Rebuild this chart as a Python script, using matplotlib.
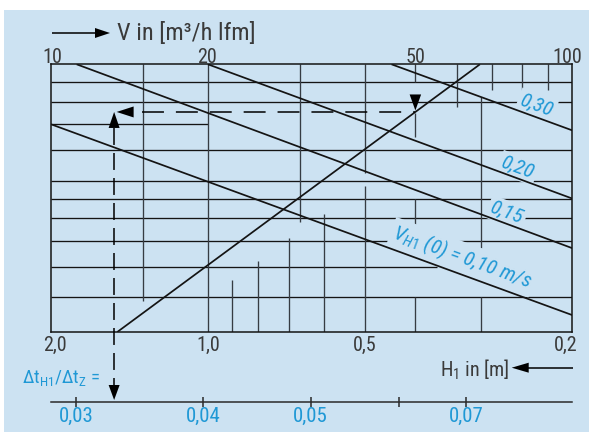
import numpy as np
import matplotlib
matplotlib.use("Agg")
import matplotlib.pyplot as plt
from matplotlib import font_manager
from matplotlib.lines import Line2D
from matplotlib.patches import Rectangle, Polygon
from matplotlib.transforms import IdentityTransform
from matplotlib.ticker import NullLocator, FixedLocator, FixedFormatter

# ---------------- scales ----------------
flow_ticks = [10, 20, 50, 100]                 # V in m³/h per metre
flow_tick_labels = ["10", "20", "50", "100"]
height_ticks = [2.0, 1.0, 0.5, 0.2]            # H1 in m
height_tick_labels = ["2,0", "1,0", "0,5", "0,2"]
ratio_ticks = [0.03, 0.04, 0.05, 0.06, 0.07]   # Δt_H1 / Δt_Z
ratio_tick_labels = ["0,03", "0,04", "0,05", "", "0,07"]
ratio_tick_height = [1.79, 1.02, 0.635, 0.43, 0.32]   # H1 belonging to each ratio tick

# auxiliary ordinate (unlabelled, logarithmic)
aux_bottom, aux_top = 0.407, 2.0
hgrid_levels = [1.8, 1.6, 1.4, 1.2, 1.0, 0.9, 0.8, 0.7, 0.6, 0.5]
hgrid_flow_end = [100, 100, 20, 100, 100, 100, 100, 100, 55, 100]

# vertical rulings of the flow scale (flow, from, to)
flow_grid_v = [15, 20, 30, 40, 40, 50, 50, 50, 50, 60, 70, 80, 90]
flow_grid_lo = [0.49, aux_bottom, 0.785, 1.047, aux_bottom, 1.8, 1.30, 0.756, aux_bottom, 1.55, 1.72, 1.72, 1.72]
flow_grid_hi = [2.0, 2.0, 2.0, 2.0, 0.972, 2.0, 1.5, 0.898, 0.5, 2.0, 2.0, 2.0, 2.0]

# vertical rulings of the height scale (H1, from, to)
height_grid_h = [0.9, 0.8, 0.7, 0.6, 0.3, 0.3]
height_grid_lo = [aux_bottom, aux_bottom, aux_bottom, aux_bottom, aux_bottom, 0.669]
height_grid_hi = [0.556, 0.621, 0.711, 0.822, 0.502, 1.643]

# outlet velocity lines V_H1(0): end points (flow, aux)
velocity_labels = ["$V_{H1}$ (0) = 0,10 m/s", "0,15", "0,20", "0,30"]
velocity_flow_start = [10.0, 11.2, 20.0, 45.0]
velocity_aux_start = [1.40, 2.0, 2.0, 2.0]
velocity_flow_end = [100, 100, 100, 100]
velocity_aux_end = [0.45, 0.67, 0.90, 1.35]
velocity_label_flow = [60.0, 73.7, 77.5, 84.0]
velocity_label_gap = [16.5, 10.3, 10.0, 11.2]   # px above the line

# transfer line between flow and height
transfer_flow = [13.4, 66.5]
transfer_aux = [aux_bottom, 2.0]

# worked example
example_flow = 50
example_height = 1.5

# ---------------- style ----------------
BG = "#cce2f2"
INK = "#141414"
GRID_V = "#363c43"
TEXT = "#3a3a3a"
BLUE = "#1f98d5"

available = {f.name for f in font_manager.fontManager.ttflist}
main_font = next((n for n in ["Roboto Condensed", "PT Sans Narrow", "Archivo Narrow",
                              "Liberation Sans"] if n in available), "DejaVu Sans")
plt.rcParams["font.family"] = [main_font, "DejaVu Sans"]
plt.rcParams["mathtext.fontset"] = "custom"
plt.rcParams["mathtext.rm"] = main_font
plt.rcParams["mathtext.it"] = main_font + ":italic"
plt.rcParams["lines.scale_dashes"] = False

W, H = 589, 432
fig = plt.figure(figsize=(W / 100, H / 100), dpi=100, facecolor="white")
fig.add_artist(Rectangle((4 / W, 0), 1, (H - 10) / H, transform=fig.transFigure,
                         fc=BG, ec="none", zorder=-10))

L, T, R, B = 51, 64.3, 572.3, 332
ax = fig.add_axes([L / W, 1 - B / H, (R - L) / W, (B - T) / H])
ax.set_xscale("log")
ax.set_yscale("log")
ax.set_xlim(flow_ticks[0], flow_ticks[-1])
ax.set_ylim(aux_bottom, aux_top)
ax.patch.set_visible(False)
for axis in (ax.xaxis, ax.yaxis):
    axis.set_major_locator(NullLocator())
    axis.set_minor_locator(NullLocator())
for s in ax.spines.values():
    s.set_linewidth(1.1)
    s.set_color(INK)


def flow_of_height(h):
    return flow_ticks[0] * height_ticks[0] / np.asarray(h)


def on_line(v, v0, y0, v1, y1):
    t = np.log(v / v0) / np.log(v1 / v0)
    return np.exp(np.log(y0) + t * np.log(y1 / y0))


# grid
for y, vend in zip(hgrid_levels, hgrid_flow_end):
    ax.plot([flow_ticks[0], vend], [y, y], color=INK, lw=0.95, zorder=1,
            solid_capstyle="butt")
for v, lo, hi in zip(flow_grid_v, flow_grid_lo, flow_grid_hi):
    ax.plot([v, v], [lo, hi], color=GRID_V, lw=0.95, zorder=1, solid_capstyle="butt")
for h, lo, hi in zip(height_grid_h, height_grid_lo, height_grid_hi):
    v = flow_of_height(h)
    ax.plot([v, v], [lo, hi], color=GRID_V, lw=0.95, zorder=1, solid_capstyle="butt")

# velocity lines and their labels
for lab, v0, y0, v1, y1, lv, gap in zip(velocity_labels, velocity_flow_start, velocity_aux_start,
                                         velocity_flow_end, velocity_aux_end,
                                         velocity_label_flow, velocity_label_gap):
    ax.plot([v0, v1], [y0, y1], color=INK, lw=1.25, zorder=4, solid_capstyle="butt")
    p0 = ax.transData.transform((v0, y0))
    p1 = ax.transData.transform((v1, y1))
    ang = np.arctan2(p1[1] - p0[1], p1[0] - p0[0])
    nx, ny = -np.sin(ang), np.cos(ang)
    ly = on_line(lv, v0, y0, v1, y1)
    ax.annotate(lab, xy=(lv, ly), xytext=(nx * gap * 0.72, ny * gap * 0.72),
                textcoords="offset points", ha="center", va="center",
                rotation=np.degrees(ang), rotation_mode="anchor",
                fontsize=15, fontstyle="italic", color=BLUE, zorder=3,
                bbox=dict(boxstyle="square,pad=0.12", fc=BG, ec="none"))

ax.plot(transfer_flow, transfer_aux, color=INK, lw=1.25, zorder=4, solid_capstyle="butt")

# scale labels
tick_font = dict(fontsize=14.5, color=TEXT)
for v, lab, dx in zip(flow_ticks, flow_tick_labels, [1.5, -0.5, 0.5, -5.5]):
    ax.annotate(lab, xy=(v, 1), xycoords=("data", "axes fraction"),
                xytext=(dx * 0.72, 1.3 * 0.72), textcoords="offset points",
                ha="center", va="baseline", annotation_clip=False, **tick_font)
for h, lab, dx in zip(height_ticks, height_tick_labels, [4, 0, 0, -7]):
    ax.annotate(lab, xy=(flow_of_height(h), 0), xycoords=("data", "axes fraction"),
                xytext=(dx * 0.72, -18.7 * 0.72), textcoords="offset points",
                ha="center", va="baseline", annotation_clip=False, **tick_font)

# ratio scale
DT_Y = 401.7
axr = fig.add_axes([L / W, 1 - DT_Y / H, (R - L) / W, 0.001])
axr.set_xscale("log")
axr.set_xlim(flow_ticks[0], flow_ticks[-1])
axr.patch.set_visible(False)
axr.yaxis.set_major_locator(NullLocator())
axr.yaxis.set_minor_locator(NullLocator())
for side in ("top", "left", "right"):
    axr.spines[side].set_visible(False)
axr.spines["bottom"].set_linewidth(1.1)
axr.spines["bottom"].set_color("#2a2a2a")
axr.xaxis.set_major_locator(FixedLocator(flow_of_height(ratio_tick_height)))
axr.xaxis.set_major_formatter(FixedFormatter(ratio_tick_labels))
axr.xaxis.set_minor_locator(NullLocator())
axr.tick_params(axis="x", direction="inout", length=6.5, width=1.1, color="#2a2a2a",
                labelcolor=BLUE, labelsize=15, pad=0.5)


# ---------------- arrows and example ----------------
def head(tip, direction, length, width, zorder=6):
    tx, ty = tip
    dx, dy = direction
    bx, by = tx - dx * length, ty - dy * length
    nx, ny = -dy, dx
    pts = [(tx, ty), (bx + nx * width / 2, by + ny * width / 2),
           (bx - nx * width / 2, by - ny * width / 2)]
    fig.add_artist(Polygon(pts, closed=True, fc="black", ec="none",
                           transform=IdentityTransform(), zorder=zorder))


def seg(p, q, **kw):
    fig.add_artist(Line2D([p[0], q[0]], [p[1], q[1]], transform=IdentityTransform(),
                          color="black", solid_capstyle="butt", **kw))


def px(x, y):
    return (x, H - y)


ex_aux = on_line(example_flow, transfer_flow[0], transfer_aux[0], transfer_flow[1], transfer_aux[1])
ex_v = float(flow_of_height(example_height))
cx, cy = ax.transData.transform((ex_v, ex_aux))
fx, fy = ax.transData.transform((example_flow, ex_aux))
cx -= 2
dt_line_y = H - DT_Y

# up arrow on the height ordinate, continuing down to the ratio scale
head((cx, cy), (0, 1), 16, 11)
seg((cx, cy - 16), (cx, dt_line_y + 15), lw=1.1, linestyle=(0, (12.2, 5.8)), zorder=6)
head((cx, dt_line_y + 1.7), (0, -1), 15, 11)

# left arrow from the flow side
head((cx + 2.5, cy), (-1, 0), 17, 11)
seg((cx + 2.5 + 17 + 8.7, cy), (fx, cy), lw=1.1, linestyle=(0, (15.8, 8.6)), zorder=6)

# down arrow at the example flow
head((fx, cy + 1.5), (0, -1), 16, 11.5)

# axis title arrows
seg(px(52, 33), px(97, 33), lw=1.1)
head(px(110, 33), (1, 0), 15, 10)
seg(px(572.7, 367.7), px(527, 367.7), lw=1.1)
head(px(511.7, 367.7), (-1, 0), 17, 10)

fig.text(117 / W, 1 - 40 / H, "V in [m³/h lfm]", fontsize=17.5, color=TEXT, va="baseline")
fig.text(440 / W, 1 - 376.7 / H, "H$_1$ in [m]", fontsize=14.5, color=TEXT, va="baseline")
fig.text(21.7 / W, 1 - 383 / H, "$\\mathrm{Δt_{H1}/Δt_{Z}}$ =", fontsize=13.5,
         color=BLUE, va="baseline")

fig.savefig("out.png", dpi=100, facecolor="white")
